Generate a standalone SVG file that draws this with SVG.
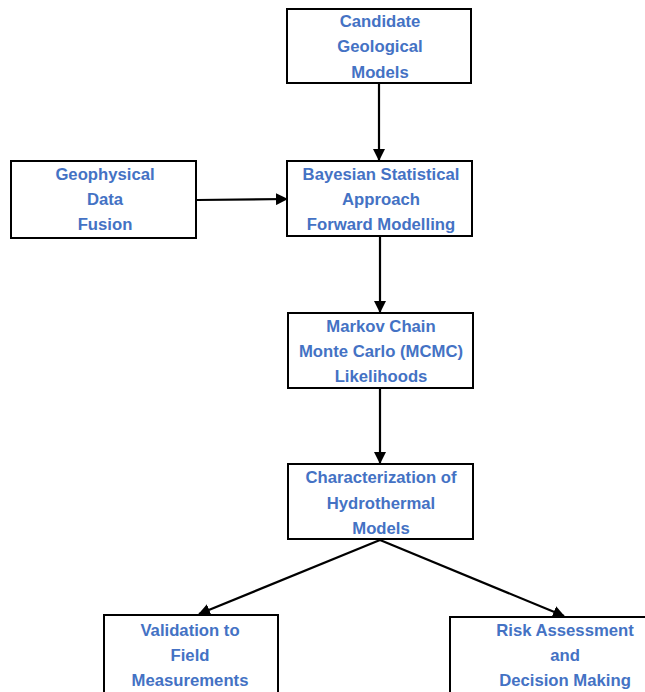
<svg xmlns="http://www.w3.org/2000/svg" width="645" height="692" viewBox="0 0 645 692">
<style>
.box{fill:#fff;stroke:#000;stroke-width:2}
.t{font-family:"Liberation Sans",Arial,sans-serif;font-weight:bold;font-size:16.7px;fill:#4472C4;text-anchor:middle}
.c{stroke:#000;stroke-width:2.2;fill:none;marker-end:url(#ah)}
</style>
<defs>
<marker id="ah" markerWidth="12" markerHeight="12" refX="11" refY="6" orient="auto" markerUnits="userSpaceOnUse">
<path d="M0,0 L12,6 L0,12 Z" fill="#000"/>
</marker>
</defs>
<rect width="645" height="692" fill="#fff"/>
<g id="connectors">
<line class="c" x1="379" y1="84" x2="379" y2="160"/>
<line class="c" x1="197" y1="200" x2="287" y2="199"/>
<line class="c" x1="380" y1="236" x2="380" y2="312"/>
<line class="c" x1="380" y1="389" x2="380" y2="463"/>
<line class="c" x1="380" y1="540" x2="199" y2="614"/>
<line class="c" x1="380" y1="540" x2="564" y2="616"/>
</g>
<g id="candidate">
<rect class="box" x="287" y="9" width="184" height="74"/>
<text class="t" x="380" y="27">Candidate</text>
<text class="t" x="380" y="52">Geological</text>
<text class="t" x="380" y="78">Models</text>
</g>
<g id="geophysical">
<rect class="box" x="11" y="161" width="185" height="77"/>
<text class="t" x="105" y="180">Geophysical</text>
<text class="t" x="105" y="205">Data</text>
<text class="t" x="105" y="230">Fusion</text>
</g>
<g id="bayesian">
<rect class="box" x="287" y="161" width="185" height="75"/>
<text class="t" x="381" y="180">Bayesian Statistical</text>
<text class="t" x="381" y="205">Approach</text>
<text class="t" x="381" y="230">Forward Modelling</text>
</g>
<g id="markov">
<rect class="box" x="288" y="313" width="185" height="75"/>
<text class="t" x="381" y="332">Markov Chain</text>
<text class="t" x="381" y="357">Monte Carlo (MCMC)</text>
<text class="t" x="381" y="382">Likelihoods</text>
</g>
<g id="characterization">
<rect class="box" x="288" y="464" width="185" height="75"/>
<text class="t" x="381" y="483">Characterization of</text>
<text class="t" x="381" y="509">Hydrothermal</text>
<text class="t" x="381" y="534">Models</text>
</g>
<g id="validation">
<rect class="box" x="104" y="615" width="174" height="90"/>
<text class="t" x="190" y="636">Validation to</text>
<text class="t" x="190" y="661">Field</text>
<text class="t" x="190" y="686">Measurements</text>
</g>
<g id="risk">
<rect class="box" x="450" y="617" width="210" height="90"/>
<text class="t" x="565" y="636">Risk Assessment</text>
<text class="t" x="565" y="661">and</text>
<text class="t" x="565" y="686">Decision Making</text>
</g>
</svg>
